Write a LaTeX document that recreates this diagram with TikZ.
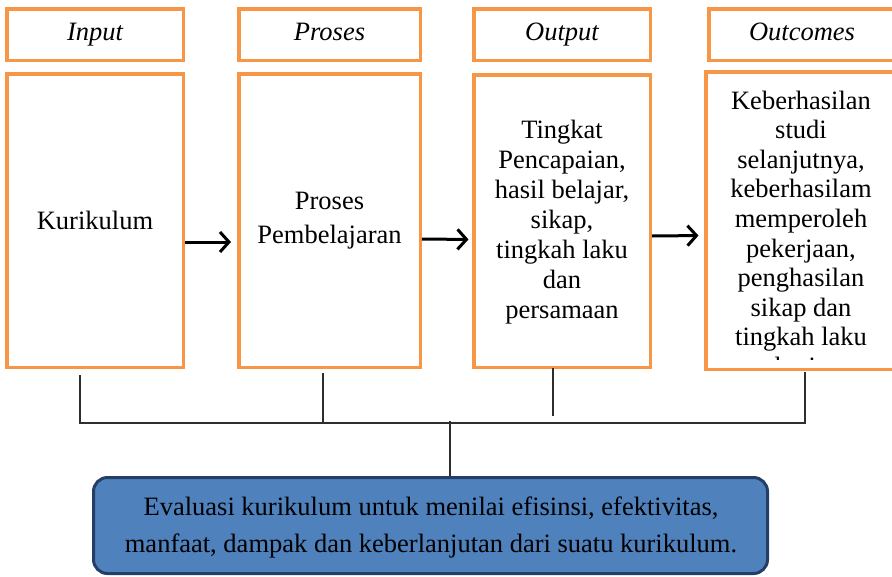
\documentclass[tikz,border=0pt]{standalone}
\usepackage{fontspec}
\setmainfont{Liberation Serif}
\usetikzlibrary{arrows.meta}
\definecolor{boxorange}{HTML}{F79646}
\definecolor{evalfill}{HTML}{4F81BD}
\definecolor{evaldraw}{HTML}{243F66}
\definecolor{treegray}{HTML}{2E2E2E}
\begin{document}
\begin{tikzpicture}[x=1pt,y=-1pt,
  obox/.style={draw=boxorange,line width=3.5pt,rectangle,inner sep=0pt,fill=white},
  hdrtext/.style={font=\fontsize{26.5}{29.6}\selectfont\itshape,inner sep=0pt,text height=18pt,text depth=6pt},
  bodytext/.style={font=\fontsize{26.5}{29.6}\selectfont,align=center,inner sep=0pt},
  flowarrow/.style={line width=3pt,-{Straight Barb[length=9pt,width=20pt]}},
  treeline/.style={draw=treegray,line width=1.4pt},
  evalbox/.style={draw=evaldraw,fill=evalfill,line width=3pt,rounded corners=14pt,inner sep=0pt}]
\useasboundingbox (0,0) rectangle (892,576);
% header boxes
\node[obox,minimum width=176.5pt,minimum height=51.5pt] (inh) at (95,34.5) {};
\node[obox,minimum width=181.5pt,minimum height=51.5pt] (prh) at (329.5,34.5) {};
\node[obox,minimum width=176.5pt,minimum height=51.5pt] (outh) at (562,34.5) {};
\node[obox,minimum width=186.5pt,minimum height=51.5pt] (och) at (802,34.5) {};
\node[hdrtext] (inht) at (inh.center) {Input};
\node[hdrtext] (prht) at (prh.center) {Proses};
\node[hdrtext] (outht) at (outh.center) {Output};
\node[hdrtext] (ocht) at (och.center) {Outcomes};
% main boxes
\node[obox,minimum width=176.5pt,minimum height=293.5pt] (inm) at (95,220.5) {};
\node[obox,minimum width=181.5pt,minimum height=293.5pt] (prm) at (329.5,220.5) {};
\node[obox,minimum width=176.5pt,minimum height=292.5pt] (outm) at (562,221) {};
\node[obox,minimum width=189.5pt,minimum height=297.5pt] (ocm) at (800.5,220.5) {};
\node[bodytext] (inmt) at (inm.center) {Kurikulum};
\node[bodytext,font=\fontsize{26.5}{34}\selectfont] (prmt) at (prm.center) {Proses\\Pembelajaran};
\node[bodytext,font=\fontsize{26.5}{30}\selectfont] (outmt) at (562,222) {Tingkat\\Pencapaian,\\hasil belajar,\\sikap,\\tingkah laku\\dan\\persamaan};
\begin{scope}
\clip (707,74) rectangle (895,359.5);
\node[bodytext,anchor=north] (ocmt) at (801,90.5) {Keberhasilan\\studi\\selanjutnya,\\keberhasilam\\memperoleh\\pekerjaan,\\penghasilan\\sikap dan\\tingkah laku\\kerja};
\end{scope}
% arrows
\draw[flowarrow,shorten >=6pt] ([yshift=-21.5pt]inm.east) -- ([yshift=-21.5pt]prm.west);
\draw[flowarrow,shorten >=3.5pt] ([yshift=-18.5pt]prm.east) -- ([yshift=-18.5pt]outm.west);
\draw[flowarrow,shorten >=5.5pt] ([yshift=-15pt]outm.east) -- ([yshift=-15pt]ocm.west);
% bottom evaluation box
\node[evalbox,minimum width=674pt,minimum height=96pt] (eval) at (430.5,525.5) {};
\node[font=\fontsize{26.5}{37}\selectfont,align=center,inner sep=0pt] (evalt) at (431,527) {Evaluasi kurikulum untuk menilai efisinsi, efektivitas,\\manfaat, dampak dan keberlanjutan dari suatu kurikulum.};
% tree connectors
\coordinate (t1) at (80,375);
\coordinate (h1) at (80,423);
\coordinate (t2) at (323,373);
\coordinate (h2) at (323,423);
\coordinate (t3) at (553,368);
\coordinate (h3) at (553,416);
\coordinate (t4) at (805,372);
\coordinate (h4) at (805,423);
\coordinate (st) at (450,421);
\draw[treeline] (t1) -- (h1) -- (h4) -- (t4);
\draw[treeline] (t2) -- (h2);
\draw[treeline] (t3) -- (h3);
\draw[treeline] (st) -- (eval.north -| st);
\end{tikzpicture}
\end{document}
